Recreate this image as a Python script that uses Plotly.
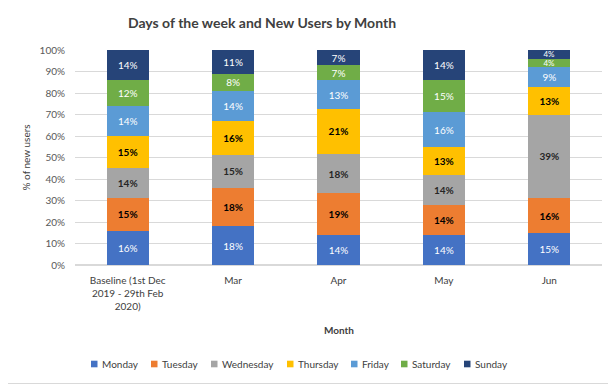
import plotly.graph_objects as go

categories = ["Baseline (1st Dec<br>2019 - 29th Feb<br>2020)", "Mar", "Apr", "May", "Jun"]
days = ["Monday", "Tuesday", "Wednesday", "Thursday", "Friday", "Saturday", "Sunday"]
monday = [16, 18, 14, 14, 15]
tuesday = [15, 18, 19, 14, 16]
wednesday = [14, 15, 18, 14, 39]
thursday = [15, 16, 21, 13, 13]
friday = [14, 14, 13, 16, 9]
saturday = [12, 8, 7, 15, 4]
sunday = [14, 11, 7, 14, 4]
series = [monday, tuesday, wednesday, thursday, friday, saturday, sunday]
y_ticks = [0, 10, 20, 30, 40, 50, 60, 70, 80, 90, 100]

colors = ["#4472C4", "#ED7D31", "#A5A5A5", "#FFC000", "#5B9BD5", "#70AD47", "#264478"]
text_colors = ["white", "black", "#262626", "black", "white", "white", "white"]
bold = [False, True, True, True, False, False, False]

# page has an 8px body margin: figure coordinates = reference pixels - 8
OFF = 8
FONT = "Lato"
W, H = 616 - OFF, 384 - OFF
L, T = 75 - OFF, 50 - OFF
R, B = 14, 119
pw, ph = W - L - R, H - T - B

legend_marker_x = [91, 151, 211, 287, 351, 401, 464]  # reference pixels, marker left edge
legend_y = 364


def px_x(px):  # reference pixel -> paper x
    return (px - OFF - L) / pw


def px_y(py):  # reference pixel -> paper y
    return (T + ph - (py - OFF)) / ph


fig = go.Figure()
for name, vals, c, tc, b in zip(days, series, colors, text_colors, bold):
    fig.add_trace(go.Bar(
        x=categories, y=vals, name=name, showlegend=False,
        marker=dict(color=c, line=dict(width=0)),
        text=[(f"<b>{v}%</b>" if b else f"{v}%") for v in vals],
        textposition="inside", insidetextanchor="middle",
        textangle=0, constraintext="none",
        textfont=dict(color=tc, size=[10 if v >= 5 else 8 for v in vals], family=FONT),
    ))

shapes = []
annotations = [
    dict(text="<b>Month</b>", xref="paper", yref="paper", x=0.5, y=px_y(330),
         showarrow=False, font=dict(size=10, color="#404040"), yanchor="middle"),
    dict(text="% of new users", xref="paper", yref="paper", x=px_x(25), y=0.5,
         textangle=-90, showarrow=False, font=dict(size=10, color="#404040"),
         xanchor="center", yanchor="middle"),
]
for name, c, mx in zip(days, colors, legend_marker_x):
    shapes.append(dict(type="rect", xref="paper", yref="paper",
                       x0=px_x(mx), x1=px_x(mx + 6.5),
                       y0=px_y(legend_y + 3.3), y1=px_y(legend_y - 3.3),
                       line=dict(width=0), fillcolor=c))
    annotations.append(dict(text=name, xref="paper", yref="paper",
                            x=px_x(mx + 8.5), y=px_y(legend_y), xanchor="left", yanchor="middle",
                            showarrow=False, font=dict(size=10, color="#404040", family=FONT)))
# chart frame (right and bottom edges visible inside the page)
shapes.append(dict(type="line", xref="paper", yref="paper",
                   x0=px_x(615.5), x1=px_x(615.5), y0=px_y(383.5), y1=px_y(0),
                   line=dict(color="#D9D9D9", width=1)))
shapes.append(dict(type="line", xref="paper", yref="paper",
                   x0=px_x(0), x1=px_x(615.5), y0=px_y(383.5), y1=px_y(383.5),
                   line=dict(color="#D9D9D9", width=1)))

fig.update_layout(
    width=W, height=H, barmode="stack", barnorm="percent", bargap=0.6,
    margin=dict(l=L, r=R, t=T, b=B, autoexpand=False),
    paper_bgcolor="white", plot_bgcolor="white",
    font=dict(family=FONT, color="#404040", size=10),
    title=dict(text="<b>Days of the week and New Users by Month</b>",
               xref="container", x=(262 - OFF) / W, xanchor="center",
               yref="container", y=1 - (23 - OFF) / H, yanchor="middle",
               font=dict(family=FONT, size=14, color="#404040")),
    showlegend=False,
    xaxis=dict(showgrid=False, showline=False, ticks="", tickfont=dict(size=10, color="#404040"),
               automargin=False, ticklabelstandoff=8),
    yaxis=dict(range=[0, 100], tickvals=y_ticks, ticktext=[f"{v}%" for v in y_ticks],
               gridcolor="#D9D9D9", gridwidth=1, zeroline=True, zerolinecolor="#D9D9D9",
               showline=False, tickfont=dict(size=10, color="#595959"), automargin=False,
               ticklabelstandoff=9),
    annotations=annotations,
    shapes=shapes,
)

fig.write_html("out.html")
